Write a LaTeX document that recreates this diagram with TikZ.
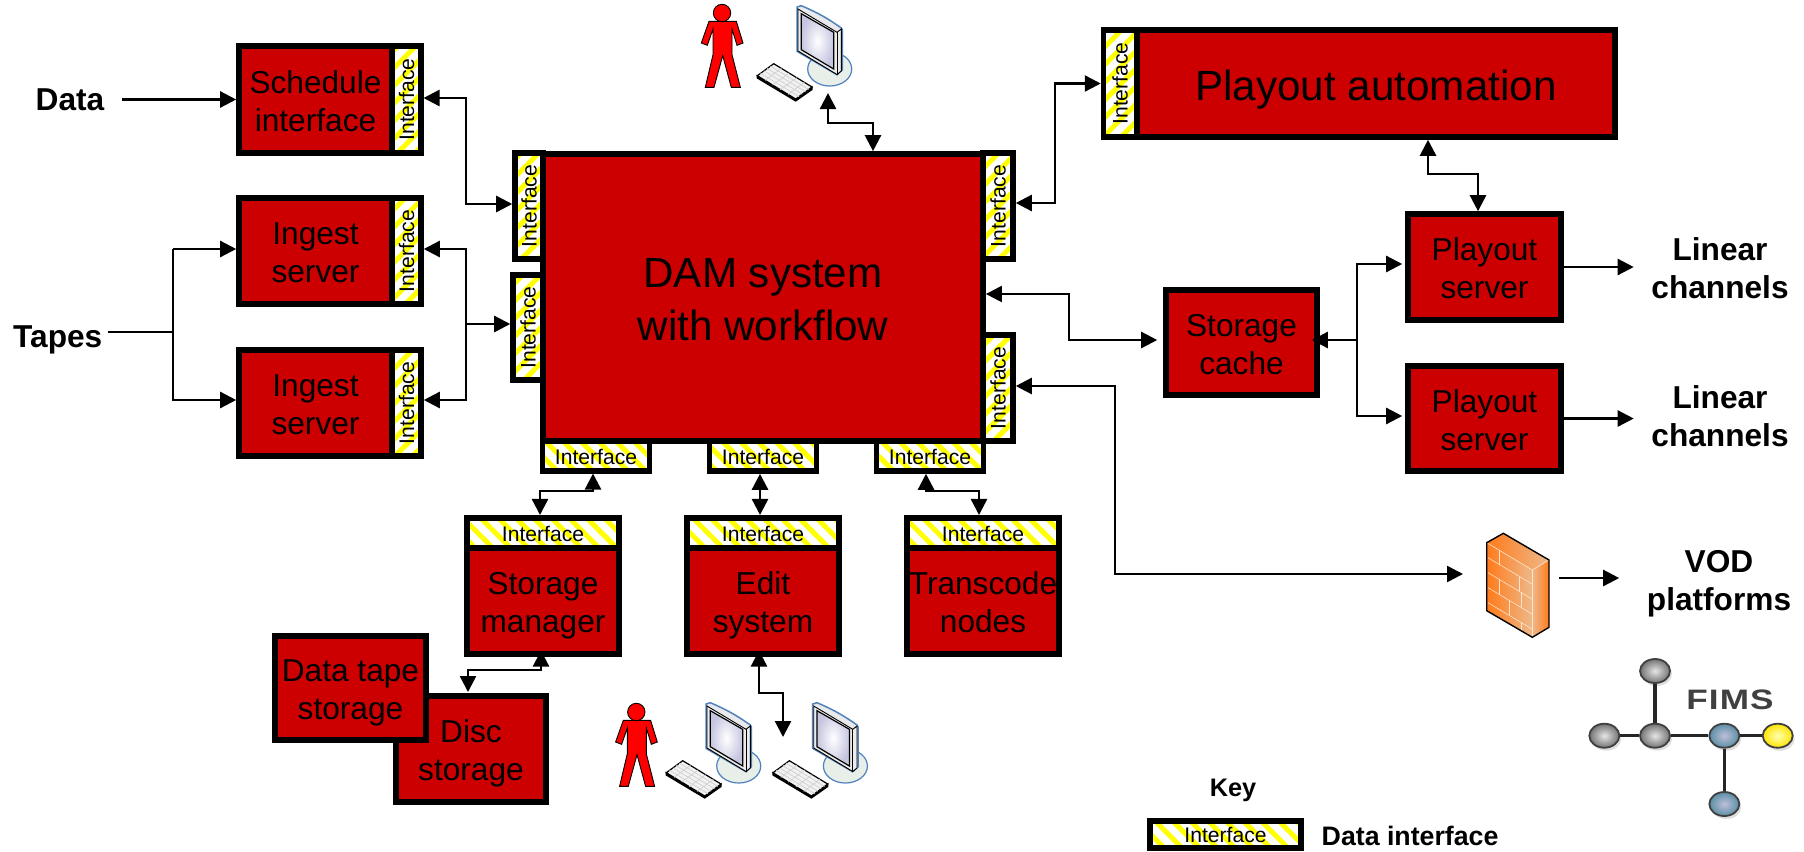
\documentclass[tikz,border=0pt]{standalone}
\usepackage{fontspec}
\setmainfont{Liberation Sans}
\newfontfamily\fimsfont[LetterSpace=3]{Liberation Sans}
\usepackage{xcolor}
\usepackage{tikz}
\usetikzlibrary{calc, arrows.meta, patterns.meta, shapes.geometric, shadows}
\definecolor{boxred}{HTML}{CC0000}
\definecolor{screenblue}{HTML}{4F81BD}
\definecolor{standgrey}{HTML}{E8EEE8}
\definecolor{brickpale}{HTML}{FFE3C8}
\definecolor{brickdeep}{HTML}{FF7A1A}
\definecolor{bricklight}{HTML}{EDB98A}
\newcommand{\vertif}{\rotatebox{90}{Interface}}
\tikzset{
	boxsize/.style 2 args = {minimum width=#1cm, minimum height=#2cm},
	redbox/.style = {draw, fill=boxred, line width=0.055cm, inner sep=0pt, align=center, text height=18.1pt, text depth=0pt, font=\fontsize{9}{10.8}\selectfont},
	bigbox/.style = {redbox, text height=24.5pt, font=\fontsize{12}{15}\selectfont},
	ifbox/.style = {draw, line width=0.055cm, inner sep=0pt, font=\fontsize{6}{7}\selectfont, preaction={fill=white}, pattern={Lines[angle=#1, distance=0.125cm, line width=0.05cm]}, pattern color=yellow},
	ifbox/.default = -45,
	flatbox/.style = {ifbox, text height=4.8pt, text depth=0pt},
	vertbox/.style = {ifbox=45},
	label/.style = {inner sep=0pt, align=center, font=\fontsize{9}{10.8}\selectfont\bfseries},
	link/.style = {line width=0.024cm, >={Triangle[length=0.16cm, width=0.16cm]}},
	ball/.style = {ellipse, draw=black!75, line width=0.018cm, inner sep=0pt, minimum width=0.3cm, minimum height=0.24cm, drop shadow={opacity=0.25, shadow xshift=0.02cm, shadow yshift=-0.03cm}},
	greyball/.style = {ball, inner color=gray!20, outer color=black!55},
	blueball/.style = {ball, inner color=blue!25!gray!40, outer color=blue!30!cyan!30!gray},
	goldball/.style = {ball, inner color=yellow!30, outer color=yellow!80!orange},
	brickline/.style = {brickpale, line width=0.006cm},
	operator/.pic = {
		\draw [fill=red, line width=0.009cm] (-13,8.3) to (14.3,8.3) to (21,30) to (15,32.3) to (10,16) to (10,41.7) to (18.3,74.3) to (9.3,74.3) to (0.7,42.7) to (-8,74.3) to (-16.7,74.3) to (-9,41.7) to (-9,16) to (-14.7,32.3) to (-20.7,30) -- cycle;
		\draw [fill=red, line width=0.009cm] (0,0) circle (0.087cm);
	},
	terminal/.pic = {
		\draw [fill=standgrey, draw=screenblue, line width=0.012cm] (32.7,61) ellipse (0.22cm and 0.17cm);
		\draw [fill=blue!8!gray!15, draw=screenblue, line width=0.015cm] (0,-1) to (4.3,-2.3) to [bend left=6] (44.3,20) to (45.3,22) to (45.3,61.7) to (40,66.7) to (0,43.3) -- cycle;
		\draw [fill=gray!15, line width=0.009cm] (1,1) to (40,24.3) to (44.3,21) to (44.3,63) to (40,66.5) to (1,43) -- cycle;
		\draw [line width=0.009cm] (40,24.3) to (40,66.5);
		\draw [inner color=white, outer color=blue!30!gray!35, line width=0.012cm] (4.3,5.7) to (36.7,24.3) to (36.7,61) to (4.3,41.7) -- cycle;
		\draw [fill=black, line width=0.012cm] (-39.7,67.7) to (-39.7,70) to (-1.3,93) to (15,81.5) to (15,79) to (-1.3,91) -- cycle;
		\draw [fill=gray!10, line width=0.012cm] (-39.7,67.7) to (-23.3,55.7) to (15,79) to (-1.3,91) -- cycle;
		\foreach \k in {0.2,0.4,0.6,0.8} {
			\draw [gray!35, line width=0.008cm] ($(-39.7,67.7)!\k!(-23.3,55.7)$) to ($(-1.3,91)!\k!(15,79)$);
			\draw [gray!35, line width=0.008cm] ($(-39.7,67.7)!\k!(-1.3,91)$) to ($(-23.3,55.7)!\k!(15,79)$);
		}
	},
}

\begin{document}
\begin{tikzpicture}[x=0.01cm, y=-0.01cm]
	\useasboundingbox (0,0) rectangle (1804,851);

	\node [redbox, boxsize={1.53}{1.07}] (sched) at (315.5,99.5) {Schedule\\interface};
	\node [vertbox, boxsize={0.29}{1.07}] (schedif) at (406.5,99.5) {\vertif};
	\node [redbox, boxsize={1.53}{1.06}] (ingesta) at (315.5,251) {Ingest\\server};
	\node [vertbox, boxsize={0.29}{1.06}] (ingestaif) at (406.5,251) {\vertif};
	\node [redbox, boxsize={1.53}{1.06}] (ingestb) at (315.5,403) {Ingest\\server};
	\node [vertbox, boxsize={0.29}{1.06}] (ingestbif) at (406.5,403) {\vertif};

	\node [bigbox, boxsize={4.40}{2.87}] (dam) at (763,297.5) {DAM system\\with workflow};
	\node [vertbox, boxsize={0.28}{1.06}] (damifa) at (529,206) {\vertif};
	\node [vertbox, boxsize={0.30}{1.05}] (damifb) at (528,327.5) {\vertif};
	\node [vertbox, boxsize={0.30}{1.06}] (damifc) at (998,206) {\vertif};
	\node [vertbox, boxsize={0.30}{1.06}] (damifd) at (998,388) {\vertif};
	\node [flatbox, boxsize={1.07}{0.30}] (damife) at (596,456) {Interface};
	\node [flatbox, boxsize={1.07}{0.30}] (damiff) at (763,456) {Interface};
	\node [flatbox, boxsize={1.07}{0.30}] (damifg) at (930,456) {Interface};

	\node [flatbox, boxsize={1.52}{0.305}] (storeif) at (543,533) {Interface};
	\node [redbox, boxsize={1.52}{1.055}] (store) at (543,601) {Storage\\manager};
	\node [flatbox, boxsize={1.52}{0.305}] (editif) at (763,533) {Interface};
	\node [redbox, boxsize={1.52}{1.055}] (edit) at (763,601) {Edit\\system};
	\node [flatbox, boxsize={1.52}{0.305}] (transif) at (983,533) {Interface};
	\node [redbox, boxsize={1.52}{1.055}] (trans) at (983,601) {Transcode\\nodes};
	\node [redbox, boxsize={1.50}{1.06}] (disc) at (471,749) {Disc\\storage};
	\node [redbox, boxsize={1.51}{1.04}] (tape) at (350.5,688) {Data tape\\storage};

	\node [vertbox, boxsize={0.33}{1.07}] (autoif) at (1120,83.5) {\vertif};
	\node [bigbox, text height=9.5pt, boxsize={4.78}{1.07}] (auto) at (1376,83.5) {Playout automation};
	\node [redbox, boxsize={1.51}{1.05}] (cache) at (1241.5,342.5) {Storage\\cache};
	\node [redbox, boxsize={1.53}{1.06}] (playa) at (1484.5,267) {Playout\\server};
	\node [redbox, boxsize={1.53}{1.05}] (playb) at (1484.5,418.5) {Playout\\server};

	\node [label] (data) at (70,99.5) {Data};
	\node [label, anchor=east] (tapes) at (103,340) {Tapes};
	\node [label] (lineara) at (1720,268) {Linear\\channels};
	\node [label] (linearb) at (1720,416) {Linear\\channels};
	\node [label] (vod) at (1719,584) {VOD\\platforms};
	\node [label, font=\fontsize{7.2}{9}\selectfont\bfseries] (keytitle) at (1233,790) {Key};
	\node [flatbox, boxsize={1.51}{0.27}] (keyif) at (1225.5,834.5) {Interface};
	\node [label, anchor=west, font=\fontsize{7.6}{10}\selectfont\bfseries] (keytext) at (1321,836) {Data interface};

	\coordinate (leftbus) at (466,0);
	\coordinate (tapesplit) at (173,332);
	\coordinate (autobus) at (1055,0);
	\coordinate (cachebus) at (1069,0);
	\coordinate (vodbus) at (1115,0);
	\coordinate (playsplit) at (1357,340);
	\coordinate (termtop) at (828,93);
	\coordinate (topstep) at (873,123);
	\coordinate (storestep) at (593,491);
	\coordinate (transstep) at (926,491);
	\coordinate (discstep) at (541,670);
	\coordinate (discin) at (468,692);
	\coordinate (editstep) at (759,693);
	\coordinate (edittip) at (783,737);
	\coordinate (autostep) at (1428,174);
	\coordinate (playtop) at (1478,0);
	\coordinate (fwin) at (1463,574);
	\coordinate (fwout) at (1559,578);
	\coordinate (schedport) at ([yshift=0.015cm]schedif.east);
	\coordinate (damporta) at ([yshift=0.02cm]damifa.west);
	\coordinate (damportb) at ([yshift=0.035cm]damifb.west);
	\coordinate (damportc) at ([yshift=0.03cm]damifc.east);
	\coordinate (damportd) at ([yshift=0.02cm]damifd.east);
	\coordinate (damporte) at ([yshift=0.035cm]dam.east);
	\coordinate (ingestaport) at ([yshift=0.02cm]ingestaif.east);
	\coordinate (ingestbport) at ([yshift=0.03cm]ingestbif.east);
	\coordinate (ingestain) at ([yshift=0.02cm]ingesta.west);
	\coordinate (ingestbin) at ([yshift=0.03cm]ingestb.west);
	\coordinate (cacheport) at ([yshift=0.025cm]cache.west);
	\coordinate (playain) at ([yshift=0.03cm]playa.west);
	\coordinate (playbin) at ([yshift=0.025cm]playb.west);
	\coordinate (storeport) at ([xshift=-0.03cm]storeif.north);
	\coordinate (editport) at ([xshift=-0.03cm]editif.north);
	\coordinate (transport) at ([xshift=-0.04cm]transif.north);

	\draw [link, ->, shorten <=0.17cm] (data) to (sched);
	\draw [link, shorten <=0.05cm] (tapes.east |- tapesplit) to (tapesplit);
	\draw [link, ->] (ingestain -| tapesplit) to (ingestbin -| tapesplit) to (ingestbin);
	\draw [link, <-] (ingestain) to (ingestain -| tapesplit);
	\draw [link, <->] (schedport) to (schedport -| leftbus) to (damporta -| leftbus) to (damporta);
	\draw [link, <->] (ingestaport) to (ingestaport -| leftbus) to (ingestbport -| leftbus) to (ingestbport);
	\draw [link, ->] (leftbus |- damportb) to (damportb);

	\draw [link, <->] (termtop) to (termtop |- topstep) to (topstep) to (topstep |- dam.north);
	\draw [link, <->] (storestep |- damife.south) to (storestep) to (storestep -| storeport) to (storeport);
	\draw [link, <->] (editport |- damiff.south) to (editport);
	\draw [link, <->] (transstep |- damifg.south) to (transstep) to (transstep -| transport) to (transport);
	\draw [link, <->, shorten <=-0.06cm] (discstep |- store.south) to (discstep) to (discstep -| discin) to (discin);
	\draw [link, <->, shorten <=-0.06cm] (editstep |- edit.south) to (editstep) to (editstep -| edittip) to (edittip);

	\draw [link, <->] (damportc) to (damportc -| autobus) to (autoif.west -| autobus) to (autoif.west);
	\draw [link, <->, shorten >=0.06cm] (damporte) to (damporte -| cachebus) to (cacheport -| cachebus) to (cacheport);
	\draw [link, <->] (damportd) to (damportd -| vodbus) to (fwin -| vodbus) to (fwin);
	\draw [link, <->] (autostep |- auto.south) to (autostep) to (autostep -| playtop) to (playtop |- playa.north);
	\draw [link, <-, shorten <=-0.08cm] (cache.east |- playsplit) to (playsplit);
	\draw [link, ->, shorten >=0.03cm] (playain -| playsplit) to (playbin -| playsplit) to (playbin);
	\draw [link, ->, shorten >=0.03cm] (playsplit) to (playain -| playsplit) to (playain);
	\draw [link, ->, shorten >=0.17cm] (playa) to (lineara.west |- playa);
	\draw [link, ->, shorten >=0.17cm] (playb) to (linearb.west |- playb);
	\draw [link, ->, shorten >=0.27cm] (fwout) to (fwout -| vod.west);

	\pic at (722,13) {operator};
	\pic at (797,8) {terminal};
	\pic at (636.3,712) {operator};
	\pic at (706,705) {terminal};
	\pic at (812.7,705) {terminal};

	\shade [left color=brickdeep, right color=bricklight] (1486.7,542.7) to (1532.3,570) to (1532.3,637.3) to (1486.7,610.7) -- cycle;
	\shade [left color=bricklight, right color=brickdeep] (1532.3,570) to (1549,560) to (1549,627.3) to (1532.3,637.3) -- cycle;
	\shade [left color=brickdeep, right color=bricklight] (1486.7,542.7) to (1503.3,533.3) to (1549,560) to (1532.3,570) -- cycle;
	\foreach \v in {15,30,45,60} {
		\draw [brickline] (1488,542.7+\v) to (1532,569+\v);
	}
	\draw [brickline] (1499,550) to (1499,565);
	\draw [brickline] (1519,577) to (1519,592);
	\draw [brickline] (1499,580) to (1499,595);
	\draw [brickline] (1521,592) to (1521,607);
	\draw [brickline] (1509,600) to (1509,615);
	\draw [brickline] (1521,622) to (1521,632);
	\draw [brickline] (1486.7,542.7) to (1532.3,570) to (1549,560);
	\draw [brickline] (1532.3,570) to (1532.3,637.3);
	\draw [line width=0.014cm] (1486.7,542.7) to (1503.3,533.3) to (1549,560) to (1549,627.3) to (1532.3,637.3) to (1486.7,610.7) -- cycle;

	\node [greyball] (ballup) at (1655,671) {};
	\node [greyball] (ballleft) at (1604.3,735.7) {};
	\node [greyball] (ballmid) at (1655,735.7) {};
	\node [blueball] (ballblue) at (1724.3,735.7) {};
	\node [goldball] (ballgold) at (1777.7,735.7) {};
	\node [blueball] (balldown) at (1724.3,804) {};
	\draw [line width=0.034cm, black!85] (ballup) to (ballmid);
	\draw [line width=0.034cm, black!85] (ballleft) to (ballmid);
	\draw [line width=0.034cm, black!85] (ballmid) to (ballblue);
	\draw [line width=0.034cm, black!85] (ballblue) to (ballgold);
	\draw [line width=0.034cm, black!85] (ballblue) to (balldown);
	\node [inner sep=0pt, text=black!75, font=\fontsize{8}{9}\selectfont\fimsfont\bfseries] (fimstext) at (1730,700) {\scalebox{1.25}[1]{FIMS}};
\end{tikzpicture}
\end{document}
